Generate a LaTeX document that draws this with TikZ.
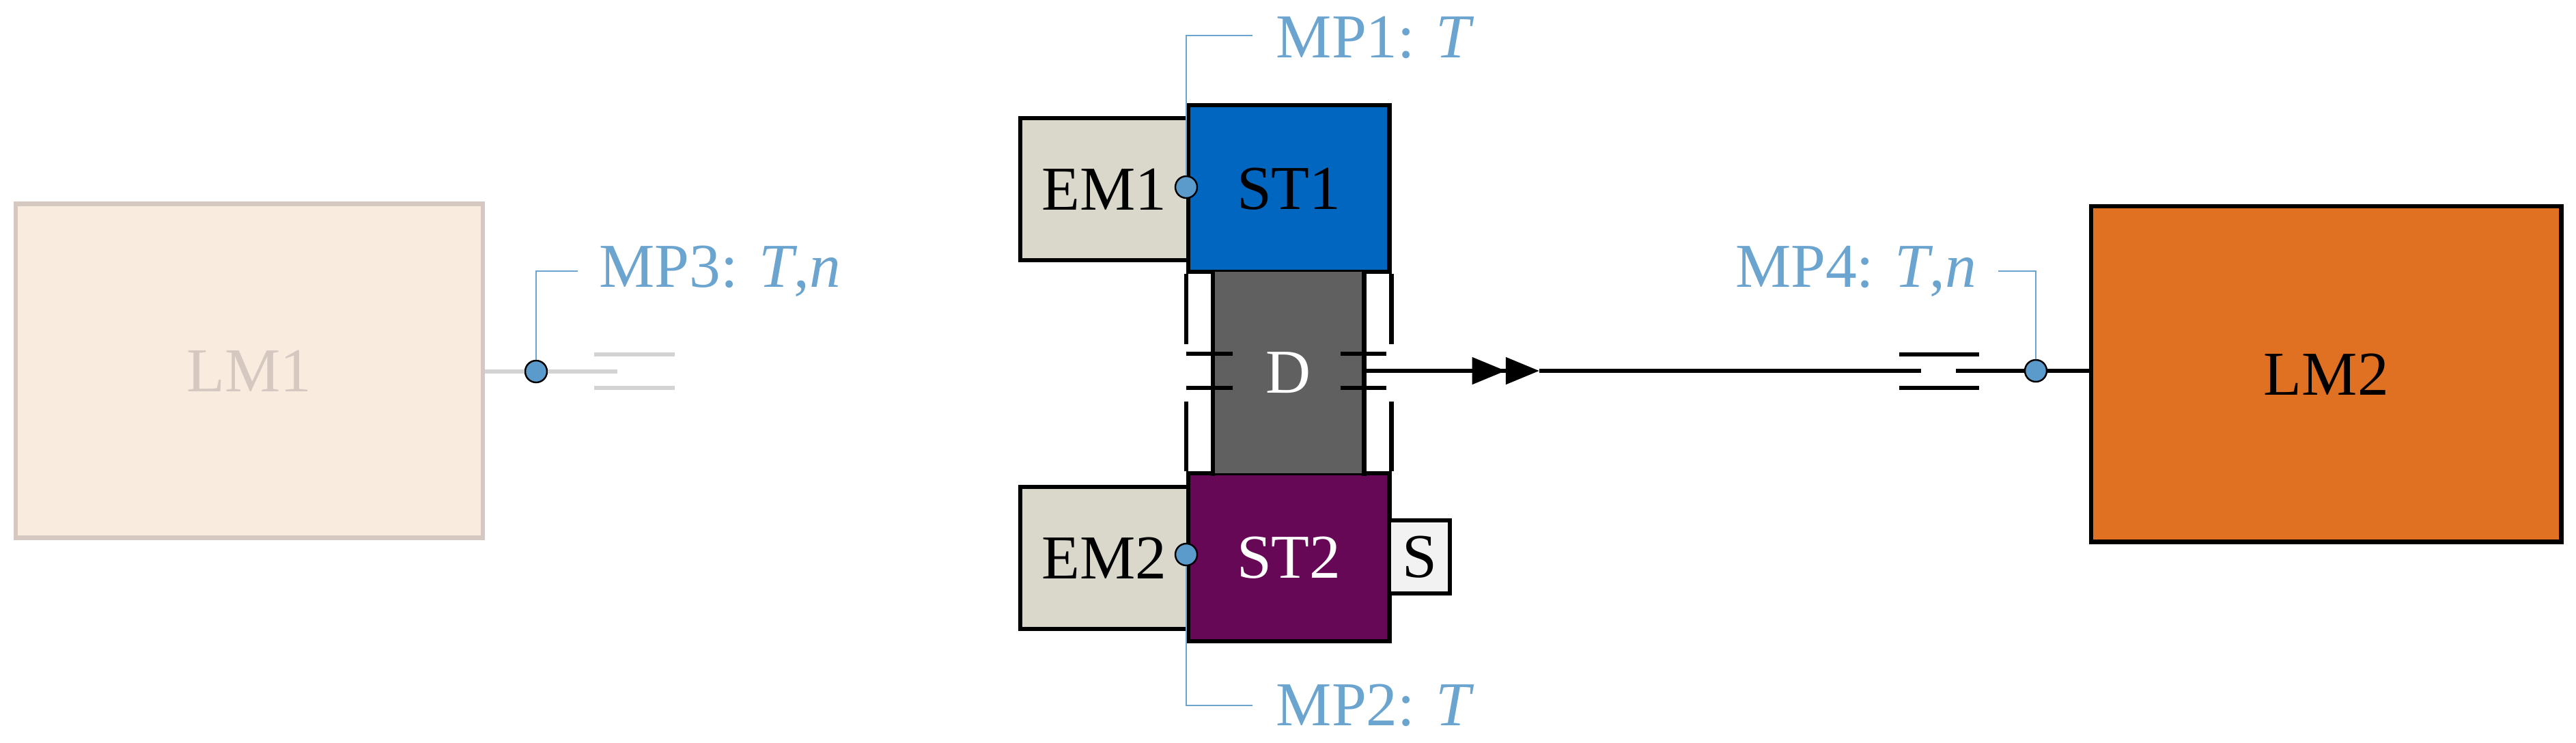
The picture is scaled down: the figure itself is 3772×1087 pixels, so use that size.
\documentclass[tikz,border=0pt]{standalone}
\usepackage{fontspec}
\setmainfont{Liberation Serif}
\usetikzlibrary{arrows.meta}
\definecolor{lmone}{HTML}{FAEBDF}
\definecolor{lmoneb}{HTML}{D5C8C0}
\definecolor{lmtwo}{HTML}{E07122}
\definecolor{stone}{HTML}{0066BF}
\definecolor{sttwo}{HTML}{660855}
\definecolor{dgray}{HTML}{606060}
\definecolor{emc}{HTML}{DAD8CB}
\definecolor{mpblue}{HTML}{6BA5CF}
\definecolor{mpdot}{HTML}{5B9BCB}
\definecolor{ghost}{HTML}{D3D3D3}
\tikzset{
 box/.style={draw=black,line width=1.8pt,inner sep=0pt,align=center,font=\fontsize{26}{30}\selectfont},
 mplabel/.style={text=mpblue,font=\fontsize{26}{30}\selectfont,inner sep=0pt},
 leader/.style={draw=mpblue,line width=0.6pt},
 mp/.style={circle,draw=black,fill=mpdot,line width=0.7pt,minimum size=0.32cm,inner sep=0pt},
 shaft/.style={line width=1.8pt},
}
\begin{document}
\begin{tikzpicture}[x=0.01cm,y=-0.01cm]
\useasboundingbox (0,0) rectangle (3772,1087);
% LM1 (faded)
\node[box,draw=lmoneb,fill=lmone,text=lmoneb,minimum width=6.83cm,minimum height=4.89cm] (lm1) at (365,543) {LM1};
\node[mp] (mp3) at (785,544) {};
\coordinate (g3) at (904,544);
\draw[ghost,line width=1.8pt] (lm1.east|-mp3) -- (mp3) -- (g3);
\coordinate (g1a) at (870,519); \coordinate (g1b) at (988,519);
\coordinate (g2a) at (870,568); \coordinate (g2b) at (988,568);
\draw[ghost,line width=1.8pt] (g1a) -- (g1b) (g2a) -- (g2b);
\node[mplabel,anchor=west] (t3) at (877,397) {MP3: \textit{T},\textit{n}};
\draw[leader] (mp3.north) |- (846,397);
% center block
\node[box,fill=emc,minimum width=2.46cm,minimum height=2.08cm,anchor=north west] (em1) at (1491,170) {EM1};
\node[box,fill=emc,minimum width=2.46cm,minimum height=2.08cm,anchor=north west] (em2) at (1491,710) {EM2};
\node[box,fill=stone,minimum width=2.94cm,minimum height=2.44cm,anchor=north west] (st1) at (1737,151) {ST1};
\node[box,fill=sttwo,text=white,minimum width=2.94cm,minimum height=2.46cm,anchor=north west] (st2) at (1737,690) {ST2};
\node[box,fill=dgray,draw=none,text=white,minimum width=2.15cm,minimum height=2.95cm,anchor=north west] (d) at (1776,395) {D};
\node[box,fill=black!5,minimum width=0.89cm,minimum height=1.07cm,anchor=north west] (s) at (2031,759) {S};
\draw[shaft] (d.north west) -- (d.south west) (d.north east) -- (d.south east);
\draw[shaft] (st1.south west) -- ++(0,103) (st2.north west) -- ++(0,-102);
\draw[shaft] (st1.south east) -- ++(0,103) (st2.north east) -- ++(0,-102);
\draw[shaft] (1737,518) -- (1805,518) (1737,568) -- (1805,568);
\draw[shaft] (1963,518) -- (2030,518) (1963,568) -- (2030,568);
\node[mp] (mp1) at (st1.west|-0,274) {};
\node[mp] (mp2) at (st2.west|-0,812) {};
\node[mplabel,anchor=west] (t1) at (1868,55) {MP1: \textit{T}};
\node[mplabel,anchor=west] (t2) at (1868,1033) {MP2: \textit{T}};
\draw[leader] (mp1.north) |- (1834,52);
\draw[leader] (mp2.south) |- (1834,1033);
% output shaft
\coordinate (ah) at (2254,543);
\coordinate (c1) at (2813,543);
\coordinate (c2) at (2864,543);
\draw[shaft,-{Triangle[length=14pt,width=11pt]Triangle[length=14pt,width=11pt]}] (d.east|-ah) -- (ah);
\draw[shaft] (ah) -- (c1);
\draw[shaft] (2781,519) -- (2898,519) (2781,568) -- (2898,568);
\node[box,fill=lmtwo,minimum width=6.88cm,minimum height=4.91cm,anchor=north west] (lm2) at (3059,299) {LM2};
\node[mp] (mp4) at (2981,543) {};
\draw[shaft] (c2) -- (mp4) -- (lm2.west|-mp4);
\node[mplabel,anchor=east] (t4) at (2895,397) {MP4: \textit{T},\textit{n}};
\draw[leader] (mp4.north) |- (2926,397);
\end{tikzpicture}
\end{document}
